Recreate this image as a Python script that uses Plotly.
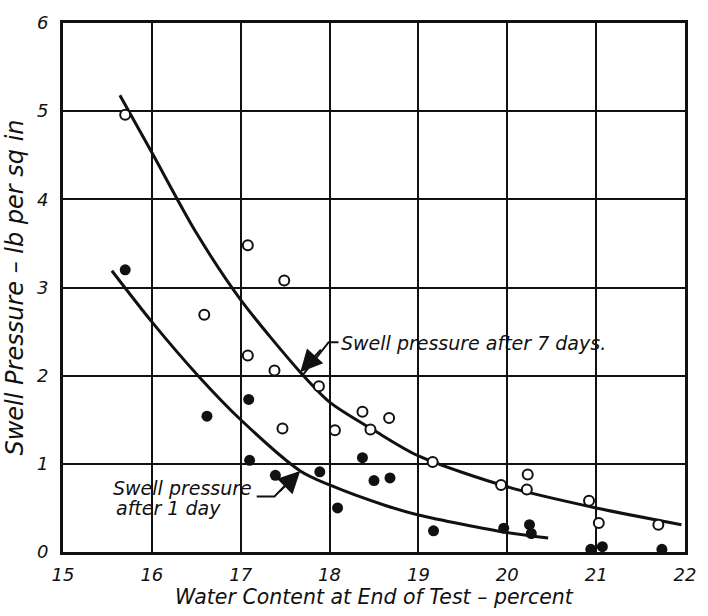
import plotly.graph_objects as go

# Swell pressure measured after 7 days (open circles)
water_7day = [15.70, 17.08, 17.49, 16.59, 17.08, 17.38, 17.88, 17.47, 18.06, 18.37,
              18.46, 18.67, 19.16, 19.93, 20.23, 20.22, 20.92, 21.03, 21.70]
swell_7day = [4.96, 3.48, 3.08, 2.69, 2.23, 2.06, 1.88, 1.40, 1.38, 1.59,
              1.39, 1.52, 1.02, 0.76, 0.88, 0.71, 0.58, 0.33, 0.31]

# Swell pressure measured after 1 day (filled circles)
water_1day = [15.70, 16.62, 17.09, 17.10, 17.39, 17.89, 18.09, 18.37, 18.50, 18.68,
              19.17, 19.96, 20.25, 20.27, 20.94, 21.07, 21.74]
swell_1day = [3.20, 1.54, 1.73, 1.04, 0.87, 0.91, 0.50, 1.07, 0.81, 0.84,
              0.24, 0.27, 0.31, 0.21, 0.03, 0.06, 0.03]

# Fitted curves
curve7_x = [15.64, 16.00, 16.50, 17.00, 17.67, 18.00, 18.50, 19.00, 20.00, 21.00, 21.96]
curve7_y = [5.18, 4.53, 3.62, 2.86, 2.04, 1.70, 1.38, 1.09, 0.74, 0.50, 0.31]
curve1_x = [15.55, 16.00, 16.52, 17.00, 17.67, 18.00, 18.62, 19.00, 20.00, 20.46]
curve1_y = [3.19, 2.61, 2.00, 1.50, 0.92, 0.76, 0.53, 0.42, 0.22, 0.16]

x_ticks = [15, 16, 17, 18, 19, 20, 21, 22]
y_ticks = [0, 1, 2, 3, 4, 5, 6]

FONT = "DejaVu Sans"
INK = "#111111"

fig = go.Figure()

for cx, cy in ((curve7_x, curve7_y), (curve1_x, curve1_y)):
    fig.add_trace(go.Scatter(x=cx, y=cy, mode="lines",
                             line=dict(color=INK, width=3, shape="spline", smoothing=0.8),
                             hoverinfo="skip", showlegend=False))

fig.add_trace(go.Scatter(x=water_7day, y=swell_7day, mode="markers",
                         marker=dict(symbol="circle", size=10, color="white",
                                     line=dict(color=INK, width=2)),
                         name="after 7 days", showlegend=False))
fig.add_trace(go.Scatter(x=water_1day, y=swell_1day, mode="markers",
                         marker=dict(symbol="circle", size=11, color=INK,
                                     line=dict(width=0)),
                         name="after 1 day", showlegend=False))

# Leader for the 7-day label: short horizontal run, then down to the curve
fig.add_shape(type="path", path="M 18.10,2.38 L 17.99,2.38 L 17.70,2.01",
              line=dict(color=INK, width=2))
fig.add_annotation(x=17.67, y=2.04, ax=22, ay=-24, xref="x", yref="y",
                   text="", showarrow=True,
                   arrowhead=2, arrowsize=2.2, arrowwidth=2, arrowcolor=INK)
fig.add_annotation(x=18.11, y=2.37, xref="x", yref="y", xanchor="left",
                   yanchor="middle", showarrow=False,
                   text="<i>Swell pressure after 7 days.</i>",
                   font=dict(family=FONT, size=19, color=INK))

# Leader for the 1-day label
fig.add_shape(type="path", path="M 17.18,0.63 L 17.38,0.63 L 17.64,0.90",
              line=dict(color=INK, width=2))
fig.add_annotation(x=17.67, y=0.92, ax=-22, ay=22, xref="x", yref="y",
                   text="", showarrow=True,
                   arrowhead=2, arrowsize=2.2, arrowwidth=2, arrowcolor=INK)
fig.add_annotation(x=15.54, y=0.73, xref="x", yref="y", xanchor="left",
                   yanchor="middle", showarrow=False,
                   text="<i>Swell pressure</i>",
                   font=dict(family=FONT, size=19, color=INK))
fig.add_annotation(x=15.575, y=0.50, xref="x", yref="y", xanchor="left",
                   yanchor="middle", showarrow=False,
                   text="<i>after 1 day</i>",
                   font=dict(family=FONT, size=19, color=INK))

axis_common = dict(showgrid=True, gridcolor=INK, gridwidth=1.8, zeroline=False,
                   showline=True, linecolor=INK, linewidth=3, mirror=True,
                   ticks="", tickfont=dict(family=FONT, size=18, color=INK))

fig.update_xaxes(range=[15, 22], tickvals=x_ticks,
                 ticktext=[f"<i>{v}</i>" for v in x_ticks],
                 ticklabelstandoff=4,
                 title=dict(text="<i>Water Content at End of Test – percent</i>",
                            font=dict(family=FONT, size=20.5, color=INK), standoff=5),
                 **axis_common)
fig.update_yaxes(range=[0, 6], tickvals=y_ticks,
                 ticktext=[f"<i>{v}</i>" for v in y_ticks],
                 ticklabelstandoff=8,
                 title=dict(text="<i>Swell Pressure – lb per sq in</i>",
                            font=dict(family=FONT, size=24, color=INK), standoff=7),
                 **axis_common)

fig.update_layout(width=708, height=616,
                  margin=dict(l=63, r=12, t=15, b=61),
                  paper_bgcolor="white", plot_bgcolor="white",
                  showlegend=False)

fig.write_html("out.html")
